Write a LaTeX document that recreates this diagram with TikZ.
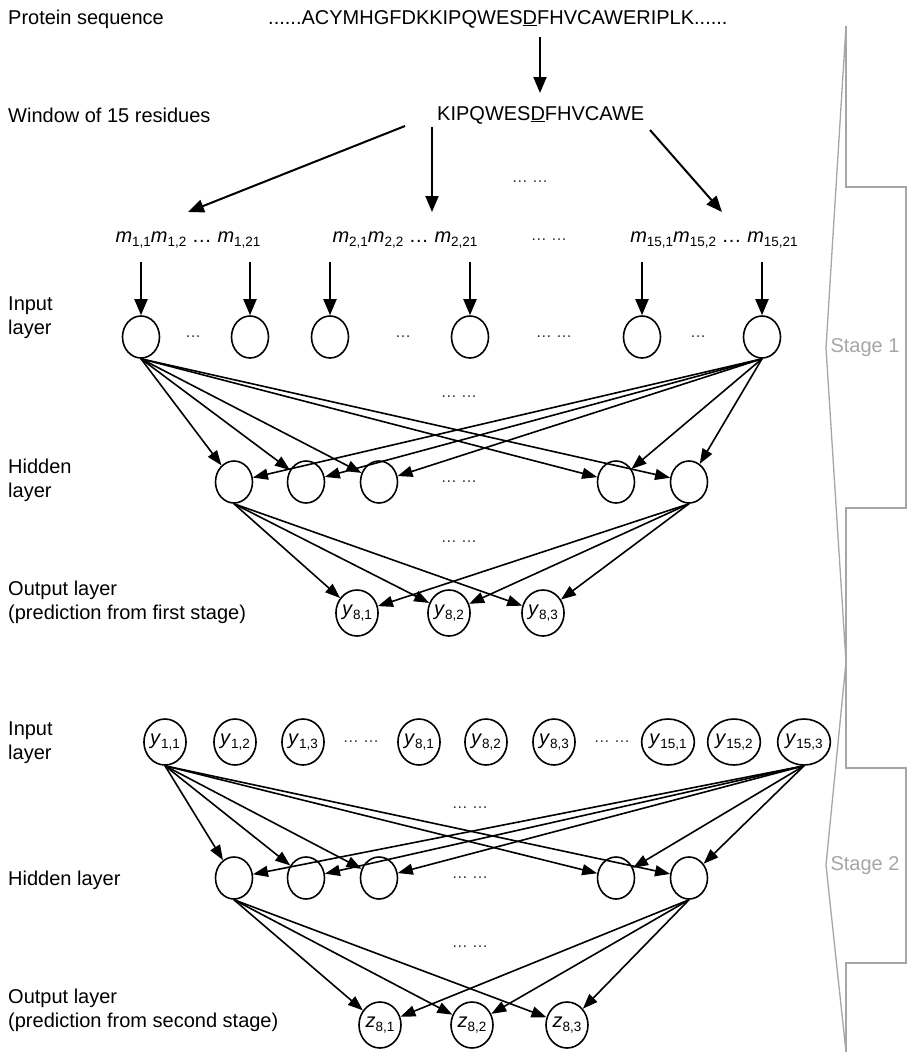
\documentclass[tikz,border=0pt]{standalone}
\usepackage{fontspec}
\setmainfont{Liberation Sans}
\usetikzlibrary{arrows.meta,shapes.geometric}
\newcommand\sbs[1]{\raisebox{-0.35ex}{\fontsize{13.5}{14}\selectfont #1}}
\newcommand\vm[2]{\textit{#1}\sbs{#2}}
\begin{document}
\begin{tikzpicture}[x=1pt,y=-1pt,font=\fontsize{20}{24}\selectfont,
  txt/.style={inner sep=0pt,anchor=west,align=left},
  neuron/.style={ellipse,draw,line width=1.6pt,minimum width=37pt,minimum height=42pt,inner sep=0pt},
  lneuron/.style={ellipse,draw,line width=1.6pt,minimum width=42pt,minimum height=46pt,inner sep=0pt},
  arr/.style={line width=2pt,-{Triangle[length=16pt,width=13pt]}},
  net/.style={line width=1.6pt,-{Triangle[length=15pt,width=11pt]}},
  dotlbl/.style={inner sep=0pt,font=\fontsize{16}{18}\selectfont,text=black!80},
  stagebox/.style={draw=black!35,line width=1.3pt},
  stagetxt/.style={inner sep=0pt,text=black!35}]
\useasboundingbox (0,0) rectangle (908,1058);

% left labels
\node[txt] (lps) at (8,19) {Protein sequence};
\node[txt] (lwin) at (8,115) {Window of 15 residues};
\node[txt] (lin1) at (8,318) {Input\\layer};
\node[txt] (lhid1) at (8,480) {Hidden\\layer};
\node[txt] (lout1) at (8,602) {Output layer\\(prediction from first stage)};
\node[txt] (lin2) at (8,743) {Input\\layer};
\node[txt] (lhid2) at (8,880) {Hidden layer};
\node[txt] (lout2) at (8,1010) {Output layer\\(prediction from second stage)};

% sequences
\node[txt] (seq) at (268,19) {......ACYMHGFDKKIPQWES\underline{D}FHVCAWERIPLK......};
\node[txt] (win) at (437,115) {KIPQWES\underline{D}FHVCAWE};
\coordinate (t0) at (540,37); \coordinate (t1) at (540,93);
\draw[arr] (t0) -- (t1);

\coordinate (w1) at (405,126); \coordinate (e1) at (188,212);
\coordinate (w2) at (432,127); \coordinate (e2) at (432,212);
\coordinate (w3) at (650,130); \coordinate (e3) at (722,212);
\draw[arr] (w1) -- (e1);
\draw[arr] (w2) -- (e2);
\draw[arr] (w3) -- (e3);
\node[dotlbl] (dw) at (530,182) {\dots\ \dots};

% m labels
\node[inner sep=0pt] (m1) at (188,240) {\vm{m}{1,1}\vm{m}{1,2} \dots\ \vm{m}{1,21}};
\node[inner sep=0pt] (m2) at (405,240) {\vm{m}{2,1}\vm{m}{2,2} \dots\ \vm{m}{2,21}};
\node[dotlbl] (md) at (549,240) {\dots\ \dots};
\node[inner sep=0pt] (m3) at (714,240) {\vm{m}{15,1}\vm{m}{15,2} \dots\ \vm{m}{15,21}};

% stage 1 input layer
\foreach \n/\x in {1/141,2/250,3/330,4/470,5/642,6/762}{
  \node[neuron] (i\n) at (\x,337) {};
  \coordinate (a\n) at (\x,262);
  \draw[arr] (a\n) -- (i\n);
}
\node[dotlbl] (di1) at (193,337) {\dots};
\node[dotlbl] (di2) at (403,337) {\dots};
\node[dotlbl] (di3) at (554,337) {\dots\ \dots};
\node[dotlbl] (di4) at (698,337) {\dots};

% stage 1 hidden layer
\foreach \n/\x in {1/234,2/306,3/379,4/616,5/689}{
  \node[neuron] (h\n) at (\x,482) {};
}
\node[dotlbl] (dh) at (459,482) {\dots\ \dots};
\node[dotlbl] (dih) at (459,397) {\dots\ \dots};
\foreach \n in {1,...,5}{
  \draw[net] (i1.south) -- (h\n);
  \draw[net] (i6.south) -- (h\n);
}

% stage 1 output layer
\node[lneuron] (o1) at (357,613) {\vm{y}{8,1}};
\node[lneuron] (o2) at (449,613) {\vm{y}{8,2}};
\node[lneuron] (o3) at (543,613) {\vm{y}{8,3}};
\node[dotlbl] (dho) at (459,542) {\dots\ \dots};
\foreach \n in {1,2,3}{
  \draw[net] (h1.south) -- (o\n);
  \draw[net] (h5.south) -- (o\n);
}

% stage 2 input layer
\node[lneuron] (j1) at (165,742) {\vm{y}{1,1}};
\node[lneuron] (j2) at (235,742) {\vm{y}{1,2}};
\node[lneuron] (j3) at (303,742) {\vm{y}{1,3}};
\node[lneuron] (j4) at (419,742) {\vm{y}{8,1}};
\node[lneuron] (j5) at (486,742) {\vm{y}{8,2}};
\node[lneuron] (j6) at (554,742) {\vm{y}{8,3}};
\node[lneuron] (j7) at (668,742) {\vm{y}{15,1}};
\node[lneuron] (j8) at (734,742) {\vm{y}{15,2}};
\node[lneuron] (j9) at (804,742) {\vm{y}{15,3}};
\node[dotlbl] (dj1) at (361,742) {\dots\ \dots};
\node[dotlbl] (dj2) at (612,742) {\dots\ \dots};

% stage 2 hidden layer
\foreach \n/\x in {1/234,2/306,3/379,4/616,5/689}{
  \node[neuron] (g\n) at (\x,878) {};
}
\node[dotlbl] (dg) at (470,878) {\dots\ \dots};
\node[dotlbl] (djg) at (470,808) {\dots\ \dots};
\foreach \n in {1,...,5}{
  \draw[net] (j1.south) -- (g\n);
  \draw[net] (j9.south) -- (g\n);
}

% stage 2 output layer
\node[lneuron] (z1) at (380,1025) {\vm{z}{8,1}};
\node[lneuron] (z2) at (472,1025) {\vm{z}{8,2}};
\node[lneuron] (z3) at (567,1025) {\vm{z}{8,3}};
\node[dotlbl] (dgz) at (470,947) {\dots\ \dots};
\foreach \n in {1,2,3}{
  \draw[net] (g1.south) -- (z\n);
  \draw[net] (g5.south) -- (z\n);
}

% stage brackets
\draw[stagebox] (846,26) -- (846,187) -- (906,187) -- (906,508) -- (846,508) -- (846,768) -- (906,768) -- (906,963) -- (846,963) -- (846,1052);
\draw[stagebox] (846,26) -- (826,348) -- (846,662) -- (826,865) -- (846,1052);
\node[stagetxt] (s1) at (865,348) {Stage 1};
\node[stagetxt] (s2) at (865,866) {Stage 2};
\end{tikzpicture}
\end{document}
